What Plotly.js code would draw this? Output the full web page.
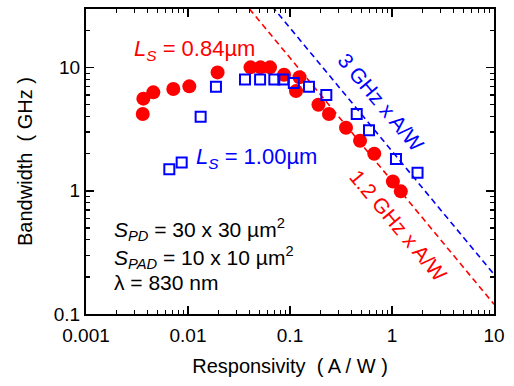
<!DOCTYPE html>
<html>
<head>
<meta charset="utf-8">
<script src="https://cdn.plot.ly/plotly-3.0.1.min.js"></script>
<style>html,body{margin:0;padding:0;background:#fff;}#chart{width:514px;height:386px;}</style>
</head>
<body>
<div id="chart"></div>
<script>
// L_S = 0.84 um (red filled circles)
const redX = [0.0036, 0.00365, 0.00457, 0.00718, 0.0103, 0.0195, 0.041, 0.0514, 0.0637, 0.0874, 0.124, 0.1145, 0.19, 0.241, 0.354, 0.486, 0.67, 1.02, 1.22];
const redY = [4.2, 5.6, 6.3, 6.7, 7.05, 9.15, 10.05, 10.05, 10.05, 8.75, 8.35, 6.45, 5.0, 4.2, 3.25, 2.55, 2.0, 1.19, 0.99];
// L_S = 1.00 um (blue open squares)
const blueX = [0.00656, 0.00867, 0.0133, 0.0188, 0.0362, 0.0509, 0.0702, 0.086, 0.109, 0.1535, 0.227, 0.451, 0.595, 1.094, 1.78];
const blueY = [1.5, 1.7, 4.0, 7.0, 8.0, 8.0, 8.0, 8.0, 7.5, 7.0, 6.0, 4.2, 3.1, 1.81, 1.4];
// guide lines (bandwidth x responsivity = const)
const redLineX = [0.03, 10];
const redLineY = [40, 0.12];
const blueLineX = [0.05, 10];
const blueLineY = [42, 0.21];
// ticks
const xTicks = [0.001, 0.01, 0.1, 1, 10];
const xTickText = ['0.001', '0.01', '0.1', '1', '10'];
const yTicks = [0.1, 1, 10];
const yTickText = ['0.1', '1', '10'];

function minorTicks(lo, hi) {
  const out = [];
  for (let d = lo; d < hi; d++) {
    for (let m = 2; m <= 9; m++) out.push(m * Math.pow(10, d));
  }
  return out;
}

const FONT = 'Liberation Sans, Arial, sans-serif';

const traces = [
  {x: redLineX, y: redLineY, mode: 'lines', line: {color: '#ff0000', width: 1.6, dash: '6px,4px'}, hoverinfo: 'skip'},
  {x: blueLineX, y: blueLineY, mode: 'lines', line: {color: '#0000ff', width: 1.6, dash: '6px,4px'}, hoverinfo: 'skip'},
  {x: redX, y: redY, mode: 'markers', marker: {symbol: 'circle', size: 14, color: '#ff0000', line: {width: 0}}},
  {x: blueX, y: blueY, mode: 'markers', marker: {symbol: 'square-open', size: 10, color: '#0000ff', line: {width: 2, color: '#0000ff'}}}
];

const axisCommon = {
  type: 'log', showgrid: false, zeroline: false,
  showline: true, linecolor: '#000', linewidth: 2, mirror: 'allticks',
  ticks: 'inside', ticklen: 8, tickwidth: 1.5, tickcolor: '#000',
  tickfont: {family: FONT, size: 19, color: '#000'}
};

function ann(x, y, text, size, color, extra) {
  return Object.assign({xref: 'paper', yref: 'paper', x: x, y: y, xanchor: 'center', yanchor: 'middle',
    showarrow: false, text: text, font: {family: FONT, size: size, color: color}}, extra || {});
}

const layout = {
  width: 514, height: 386,
  margin: {l: 86, r: 20, t: 9, b: 72},
  paper_bgcolor: '#fff', plot_bgcolor: '#fff',
  showlegend: false,
  font: {family: FONT, color: '#000'},
  xaxis: Object.assign({}, axisCommon, {
    range: [-3, 1],
    tickmode: 'array', tickvals: xTicks, ticktext: xTickText,
    ticklabelstandoff: 3,
    minor: {tickmode: 'array', tickvals: minorTicks(-3, 1), ticks: 'inside', ticklen: 4, tickwidth: 1.2, tickcolor: '#000', showgrid: false},
    title: {text: 'Responsivity  ( A / W )', font: {family: FONT, size: 20, color: '#000'}, standoff: 14}
  }),
  yaxis: Object.assign({}, axisCommon, {
    range: [-1, 1.476],
    tickmode: 'array', tickvals: yTicks, ticktext: yTickText,
    minor: {tickmode: 'array', tickvals: minorTicks(-1, 2), ticks: 'inside', ticklen: 4, tickwidth: 1.2, tickcolor: '#000', showgrid: false},
    title: {text: 'Bandwidth  ( GHz )', font: {family: FONT, size: 20, color: '#000'}, standoff: 16}
  }),
  annotations: [
    ann(0.265, 0.866, '<i>L<sub>S</sub></i> = 0.84\u00b5m', 22, '#ff0000'),
    ann(0.419, 0.511, '<i>L<sub>S</sub></i> = 1.00\u00b5m', 22, '#0000ff'),
    ann(0.724, 0.695, '3 GHz x A/W', 21, '#0000ff', {textangle: 50}),
    ann(0.765, 0.289, '1.2 GHz x A/W', 21, '#ff0000', {textangle: 50}),
    ann(0.064, 0.278, '<i>S<sub>PD</sub></i> = 30 x 30 \u00b5m<sup>2</sup>', 21, '#000', {xanchor: 'left'}),
    ann(0.064, 0.186, '<i>S<sub>PAD</sub></i> = 10 x 10 \u00b5m<sup>2</sup>', 21, '#000', {xanchor: 'left'}),
    ann(0.064, 0.103, '\u03bb = 830 nm', 21, '#000', {xanchor: 'left'})
  ]
};

Plotly.newPlot('chart', traces, layout, {displayModeBar: false, staticPlot: true});
</script>
</body>
</html>
